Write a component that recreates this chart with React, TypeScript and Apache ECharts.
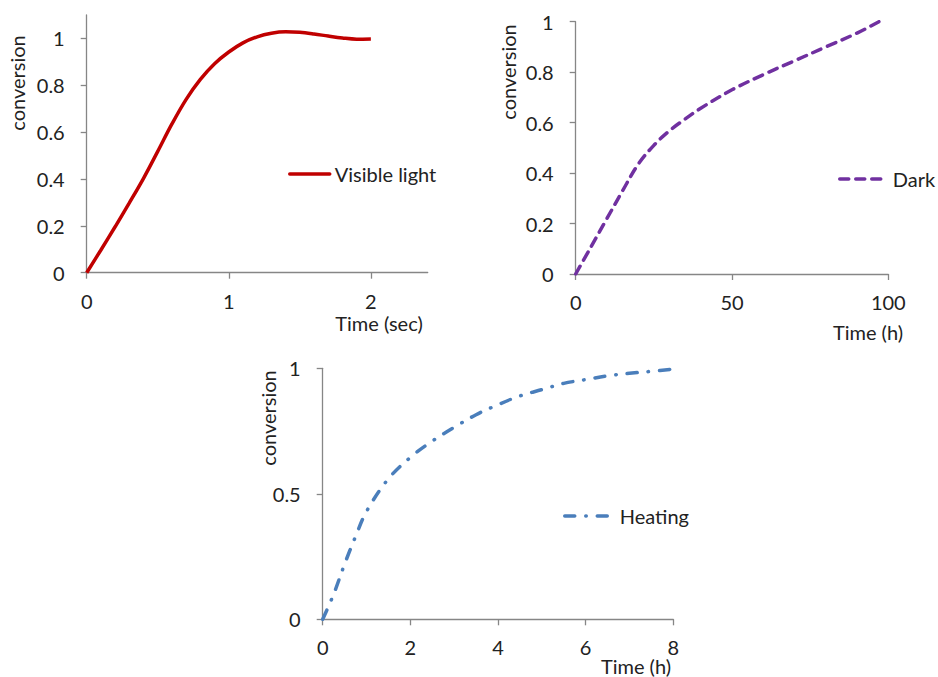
import React, { useEffect, useRef } from "react";
import * as echarts from "echarts";

// Visible light: time (sec) vs conversion
const lightTime = [0, 0.1, 0.2, 0.3, 0.4, 0.5, 0.6, 0.7, 0.8, 0.9, 1.0, 1.1, 1.2, 1.3, 1.4, 1.5, 1.6, 1.7, 1.8, 1.9, 2.0];
const lightConv = [0, 0.097, 0.196, 0.298, 0.403, 0.518, 0.635, 0.74, 0.825, 0.892, 0.942, 0.981, 1.007, 1.022, 1.028, 1.026, 1.019, 1.01, 1.002, 0.997, 0.998];

// Dark: time (h) vs conversion
const darkTime = [0, 5, 10, 15, 20, 25, 30, 35, 40, 50, 60, 70, 80, 90, 97];
const darkConv = [0, 0.11, 0.22, 0.33, 0.435, 0.51, 0.568, 0.614, 0.657, 0.73, 0.79, 0.845, 0.9, 0.955, 1.0];

// Heating: time (h) vs conversion
const heatTime = [0, 0.25, 0.5, 0.75, 1, 1.5, 2, 2.5, 3, 3.5, 4, 4.5, 5, 5.5, 6, 6.5, 7, 7.5, 8];
const heatConv = [0, 0.1, 0.22, 0.33, 0.43, 0.56, 0.645, 0.71, 0.765, 0.815, 0.855, 0.89, 0.915, 0.94, 0.955, 0.97, 0.98, 0.988, 0.997];

const lightXTicks = [0, 1, 2];
const lightYTicks = [0, 0.2, 0.4, 0.6, 0.8, 1];
const darkXTicks = [0, 50, 100];
const darkYTicks = [0, 0.2, 0.4, 0.6, 0.8, 1];
const heatXTicks = [0, 2, 4, 6, 8];
const heatYTicks = [0, 0.5, 1];

const FONT = "Lato";
const TXT = "#222222";
const AXIS = "#868686";

function pairs(xs: number[], ys: number[]) {
  return xs.map((x, i) => [x, ys[i]]);
}

function valueAxis(gridIndex: number, min: number, max: number, ticks: number[], isX: boolean) {
  return {
    type: "value",
    gridIndex,
    min,
    max,
    splitLine: { show: false },
    axisLine: { show: true, lineStyle: { color: AXIS, width: 1.3 } },
    axisTick: { show: true, length: 6, lineStyle: { color: AXIS, width: 1.3 }, customValues: ticks },
    axisLabel: {
      customValues: ticks,
      margin: isX ? 18 : 22,
      color: TXT,
      fontFamily: FONT,
      fontSize: 20,
      formatter: (v: number) => String(v),
    },
  };
}

function axisTitle(text: string, x: number, y: number, rotate = 0) {
  return {
    type: "text",
    x,
    y,
    rotation: rotate,
    style: {
      text,
      fill: TXT,
      font: `20px ${FONT}`,
      align: "center",
      verticalAlign: "middle",
    },
  };
}

function legendFor(name: string, left: number, top: number, width: number, color: string, type: any, textGap: number) {
  return {
    left, top, padding: 0, itemWidth: width, itemHeight: 14, itemGap: 0,
    data: [name],
    itemStyle: { opacity: 0 },
    lineStyle: { width: 3.5, color, type, cap: "round" },
    textStyle: { color: TXT, fontFamily: FONT, fontSize: 20, padding: [0, 0, 0, textGap] },
  };
}

export default function App() {
  const ref = useRef<HTMLDivElement>(null);
  useEffect(() => {
    if (!ref.current) return;
    const chart = echarts.init(ref.current, undefined, { renderer: "svg" });
    chart.setOption({
      animation: false,
      backgroundColor: "#ffffff",
      grid: [
        { left: 86.7, top: 15, width: 341, height: 257.7 },
        { left: 575.7, top: 21.7, width: 312.6, height: 252.3 },
        { left: 322.7, top: 368.3, width: 350.6, height: 251 },
      ],
      xAxis: [
        valueAxis(0, 0, 2.4, lightXTicks, true),
        valueAxis(1, 0, 100, darkXTicks, true),
        valueAxis(2, 0, 8, heatXTicks, true),
      ],
      yAxis: [
        valueAxis(0, 0, 1.1, lightYTicks, false),
        valueAxis(1, 0, 1, darkYTicks, false),
        valueAxis(2, 0, 1, heatYTicks, false),
      ],
      legend: [
        legendFor("Visible light", 288, 164, 40, "#c00000", "solid", 0),
        legendFor("Dark", 838, 169, 45, "#7030a0", [9, 7], 3),
        legendFor("Heating", 563, 506, 50, "#4a7ebb", [10, 11, 0.5, 11], 0),
      ],
      series: [
        {
          name: "Visible light", type: "line", xAxisIndex: 0, yAxisIndex: 0,
          data: pairs(lightTime, lightConv), symbol: "none", smooth: 0.35,
          color: "#c00000",
          lineStyle: { color: "#c00000", width: 3.5 },
        },
        {
          name: "Dark", type: "line", xAxisIndex: 1, yAxisIndex: 1,
          data: pairs(darkTime, darkConv), symbol: "none", smooth: 0.35,
          color: "#7030a0",
          lineStyle: { color: "#7030a0", width: 3.5, type: [9, 7], cap: "round" },
        },
        {
          name: "Heating", type: "line", xAxisIndex: 2, yAxisIndex: 2,
          data: pairs(heatTime, heatConv), symbol: "none", smooth: 0.35,
          color: "#4a7ebb",
          lineStyle: { color: "#4a7ebb", width: 3.5, type: [10, 11, 0.5, 11], cap: "round" },
        },
      ],
      graphic: [
        axisTitle("Time (sec)", 379, 323),
        axisTitle("conversion", 17, 83, Math.PI / 2),
        axisTitle("Time (h)", 868, 332),
        axisTitle("conversion", 508, 72, Math.PI / 2),
        axisTitle("Time (h)", 636, 666),
        axisTitle("conversion", 268, 418, Math.PI / 2),
      ],
    });
    return () => chart.dispose();
  }, []);
  return (
    <div
      ref={ref}
      style={{ position: "absolute", left: 0, top: 0, width: 938, height: 677 }}
    />
  );
}
